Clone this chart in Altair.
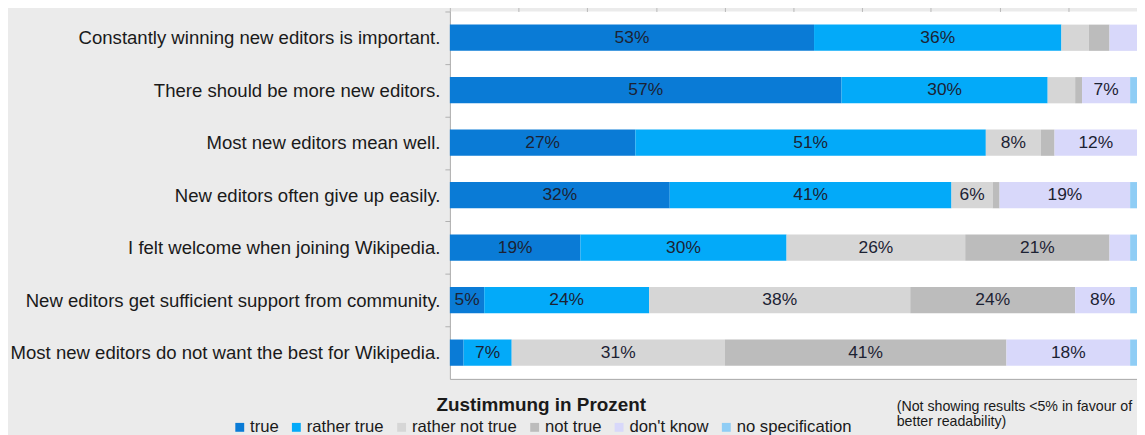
import altair as alt
import pandas as pd

questions = [
    "Constantly winning new editors is important.",
    "There should be more new editors.",
    "Most new editors mean well.",
    "New editors often give up easily.",
    "I felt welcome when joining Wikipedia.",
    "New editors get sufficient support from community.",
    "Most new editors do not want the best for Wikipedia.",
]
answers = ["true", "rather true", "rather not true", "not true", "don't know", "no specification"]
colors = ["#0a7bd6", "#03aaf9", "#d6d6d6", "#bcbcbc", "#d8d8fa", "#8fcdf5"]

v_true = [53, 57, 27, 32, 19, 5, 2]
v_rather_true = [36, 30, 51, 41, 30, 24, 7]
v_rather_not_true = [4, 4, 8, 6, 26, 38, 31]
v_not_true = [3, 1, 2, 1, 21, 24, 41]
v_dont_know = [4, 7, 12, 19, 3, 8, 18]
v_no_spec = [0, 1, 0, 1, 1, 1, 1]

series = [v_true, v_rather_true, v_rather_not_true, v_not_true, v_dont_know, v_no_spec]
rows = []
for ai, (ans, vals) in enumerate(zip(answers, series)):
    for q, v in zip(questions, vals):
        rows.append({"question": q, "answer": ans, "order": ai, "value": v})
df = pd.DataFrame(rows)

note = "(Not showing results  <5% in favour of\nbetter readability)"

base = alt.Chart(df).transform_stack(
    stack="value", groupby=["question"], as_=["start", "end"],
    sort=[alt.SortField("order", order="ascending")]
).transform_calculate(
    mid="(datum.start + datum.end) / 2",
    label="datum.value >= 5 ? datum.value + '%' : ''"
)

yenc = alt.Y(
    "question:N", sort=questions, title=None,
    scale=alt.Scale(paddingInner=0.5, paddingOuter=0.25),
    axis=alt.Axis(
        labelFontSize=18.7, labelFont="Liberation Sans", labelColor="#1a1a1a",
        labelPadding=5, tickSize=5, tickColor="#b0b0b0", domainColor="#a8a8a8",
        bandPosition=0, tickOffset=-13.2, labelOffset=13.2, labelLimit=600,
    ),
)

bars = base.mark_bar().encode(
    x=alt.X("start:Q", scale=alt.Scale(domain=[0, 100], nice=False), title=None,
            axis=alt.Axis(orient="top", labels=False, domain=False, grid=False,
                          tickSize=10, tickColor="#b8b8b8", values=list(range(0, 101, 10)))),
    x2="end:Q",
    y=yenc,
    color=alt.Color("answer:N", sort=answers,
                    scale=alt.Scale(domain=answers, range=colors),
                    legend=alt.Legend(
                        title="Zustimmung in Prozent", orient="none",
                        direction="horizontal", columns=6,
                        legendX=-220, legendY=387,
                        titleOrient="top", titleAnchor="middle", titleLimit=500,
                        titleFont="Liberation Sans", titleFontSize=19, titleFontWeight="bold",
                        titleColor="#1a1a1a", titlePadding=4,
                        labelFont="Liberation Sans", labelFontSize=16.8, labelColor="#1a1a1a",
                        labelLimit=300,
                        symbolType="square", symbolSize=80, symbolStrokeWidth=0,
                        labelOffset=2, columnPadding=9,
                    )),
    order=alt.Order("order:Q"),
)

texts = base.mark_text(font="Liberation Sans", fontSize=17.5, color="#1c2233").encode(
    x=alt.X("mid:Q", scale=alt.Scale(domain=[0, 100], nice=False), title=None,
            axis=alt.Axis(orient="bottom", labels=False, ticks=False, grid=False,
                          domainColor="#a8a8a8")),
    y=alt.Y("question:N", sort=questions),
    text="label:N",
)

note_layer = alt.Chart(pd.DataFrame({"t": [note]})).mark_text(
    align="left", baseline="top", font="Liberation Sans", fontSize=14.3,
    color="#1a1a1a", lineBreak="\n", lineHeight=15,
).encode(x=alt.value(450), y=alt.value(391), text="t:N")

chart = alt.layer(bars, texts, note_layer).resolve_axis(x="independent").properties(
    width=692, height=370,
    autosize=alt.AutoSizeParams(type="none"),
    padding={"left": 445, "top": 2, "right": 0, "bottom": 55},
    background="#ebebeb",
).configure_view(fill="white", stroke=None)

chart.save("out.html", embed_options={"renderer": "svg", "actions": False})
